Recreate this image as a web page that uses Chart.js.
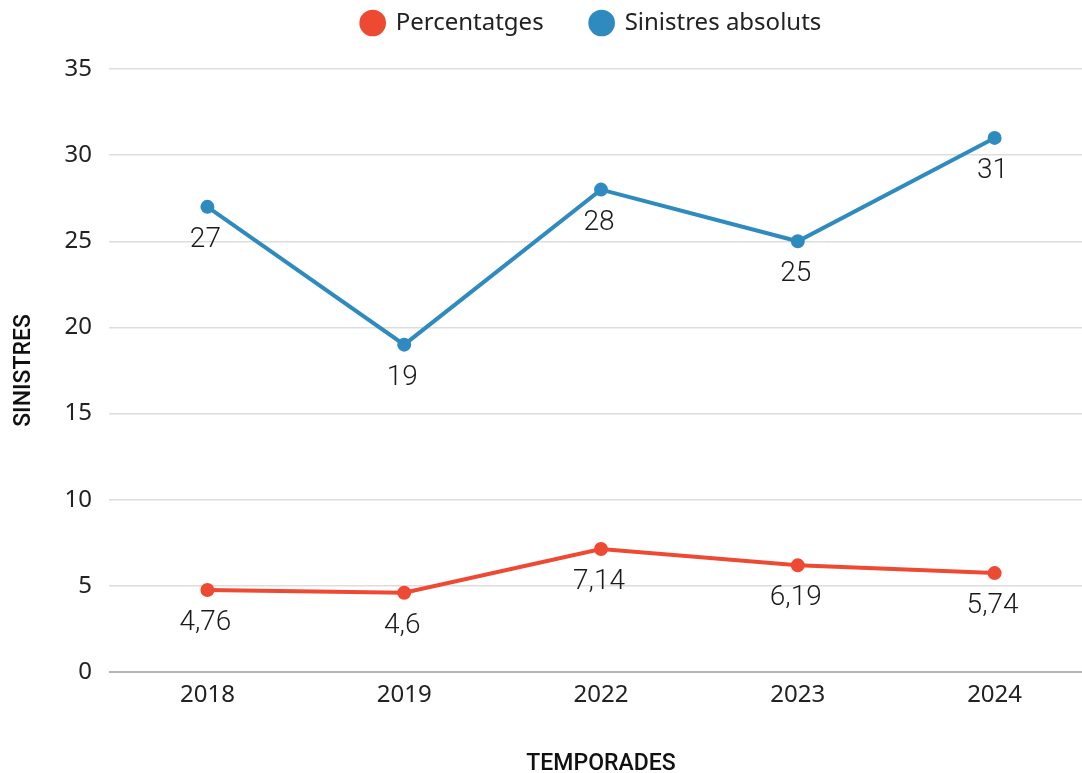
<!DOCTYPE html>
<html>
<head>
<meta charset="utf-8">
<script src="https://cdn.jsdelivr.net/npm/chart.js@4/dist/chart.umd.min.js"></script>
<style>
    html, body { margin: 0; padding: 0; background: #ffffff; overflow: hidden; }
    #chart { position: absolute; left: 0; top: 0; }
</style>
</head>
<body>
<canvas id="chart" width="1102" height="773"></canvas>
<script>
// Chart data
const seasons = ['2018', '2019', '2022', '2023', '2024'];
const percentValues = [4.76, 4.6, 7.14, 6.19, 5.74];
const absoluteValues = [27, 19, 28, 25, 31];
const yTicks = [0, 5, 10, 15, 20, 25, 30, 35];

const RED = '#ee4a33';
const BLUE = '#2f8bbf';

// Draw value labels under each point
const valueLabels = {
    id: 'valueLabels',
    afterDatasetsDraw(chart) {
        const ctx = chart.ctx;
        ctx.save();
        ctx.font = '300 28px Roboto';
        ctx.fillStyle = '#1a1a1a';
        ctx.textAlign = 'center';
        ctx.textBaseline = 'middle';
        chart.data.datasets.forEach((ds, i) => {
            chart.getDatasetMeta(i).data.forEach((pt, j) => {
                const text = String(ds.data[j]).replace('.', ',');
                ctx.fillText(text, pt.x - 2, pt.y + 33);
            });
        });
        ctx.restore();
    }
};

// Extra room under the legend, and centre it over the plot area
const legendGap = {
    id: 'legendGap',
    afterInit(chart) {
        const lg = chart.legend;
        const fit = lg.fit.bind(lg);
        lg.fit = function() {
            fit();
            this.height += 24;
        };
    },
    beforeDraw(chart) {
        const lg = chart.legend;
        lg.left = chart.chartArea.left - 8;
        lg.right = Math.min(chart.chartArea.right, 1082);
    }
};

new Chart(document.getElementById('chart'), {
    type: 'line',
    data: {
        labels: seasons,
        datasets: [
            {
                label: 'Percentatges',
                data: percentValues,
                borderColor: RED,
                backgroundColor: RED,
                borderWidth: 4,
                pointRadius: 5,
                tension: 0
            },
            {
                label: 'Sinistres absoluts',
                data: absoluteValues,
                borderColor: BLUE,
                backgroundColor: BLUE,
                borderWidth: 4,
                pointRadius: 5,
                tension: 0
            }
        ]
    },
    options: {
        responsive: false,
        animation: false,
        layout: { padding: { top: 0, right: 0, bottom: 0, left: 0 } },
        plugins: {
            legend: {
                position: 'top',
                labels: {
                    usePointStyle: true,
                    pointStyle: 'circle',
                    boxWidth: 22,
                    boxHeight: 16,
                    padding: 11,
                    color: '#222222',
                    font: { family: 'Noto Sans', size: 24 },
                    generateLabels(chart) {
                        const items = Chart.defaults.plugins.legend.labels.generateLabels(chart);
                        items.forEach((it, i) => {
                            if (i < items.length - 1) it.text = it.text + '\u2003\u2002';
                        });
                        return items;
                    }
                }
            },
            tooltip: { enabled: false }
        },
        scales: {
            x: {
                offset: true,
                grid: { display: false },
                border: { display: false },
                ticks: {
                    color: '#222222',
                    font: { family: 'Noto Sans', size: 24 },
                    padding: 1
                },
                title: {
                    display: true,
                    text: 'TEMPORADES',
                    color: '#111111',
                    font: { family: 'Roboto', size: 23, weight: '500' },
                    padding: { top: 38, bottom: -5 }
                },
                afterFit(scale) { scale.height = 101; }
            },
            y: {
                min: 0,
                max: 35,
                afterBuildTicks(scale) {
                    scale.ticks = yTicks.map(v => ({ value: v }));
                },
                grid: {
                    color: ctx => ctx.tick.value === 0 ? '#b5b5b5' : '#dddddd',
                    lineWidth: ctx => ctx.tick.value === 0 ? 2 : 1.5,
                    drawTicks: false
                },
                border: { display: false },
                ticks: {
                    color: '#222222',
                    font: { family: 'Noto Sans', size: 24 },
                    padding: 17
                },
                title: {
                    display: true,
                    text: 'SINISTRES',
                    color: '#111111',
                    font: { family: 'Roboto', size: 23, weight: '500' },
                    padding: { top: 10, bottom: 0 }
                },
                afterFit(scale) { scale.width = 109; }
            }
        }
    },
    plugins: [valueLabels, legendGap]
});
</script>
</body>
</html>
